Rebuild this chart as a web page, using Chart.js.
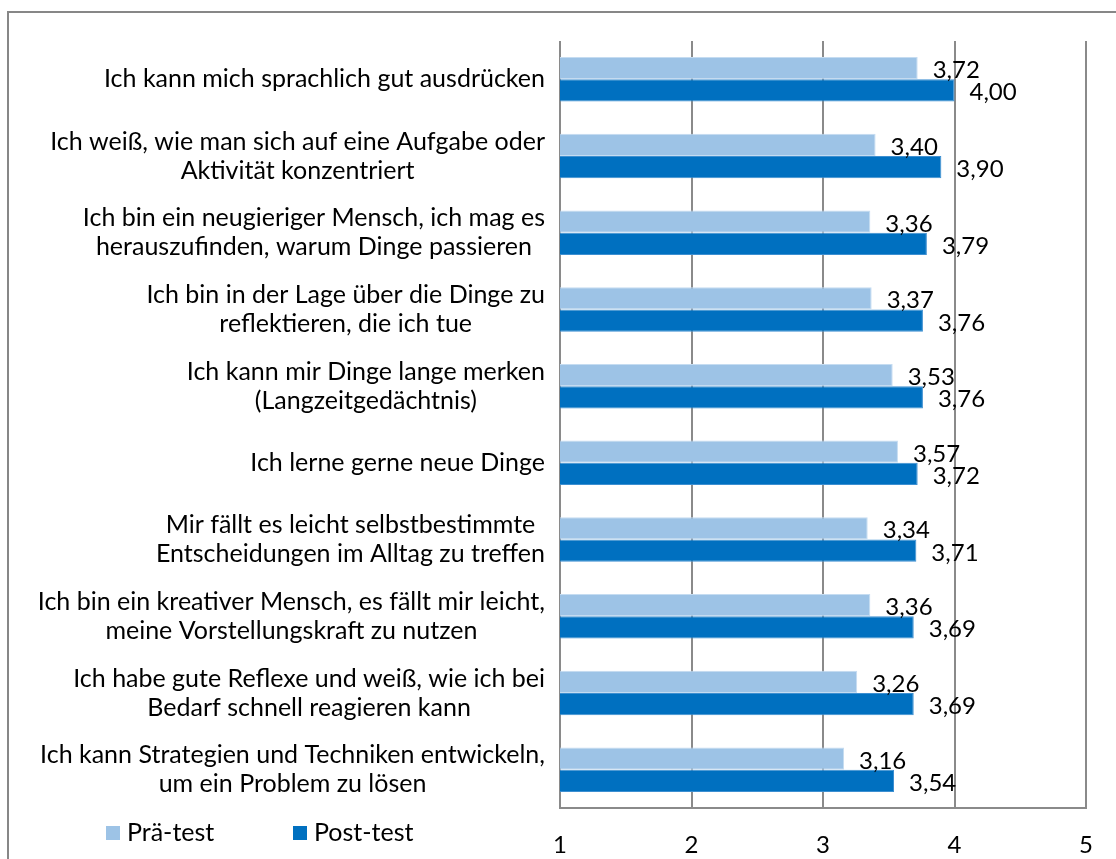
<!DOCTYPE html>
<html>
<head>
<meta charset="utf-8">
<script src="https://cdn.jsdelivr.net/npm/chart.js@4/dist/chart.umd.min.js"></script>
<style>
  html, body { margin: 0; padding: 0; background: #fff; overflow: hidden; }
  #wrap { position: relative; width: 1116px; height: 859px; }
  #frame { position: absolute; left: 7px; top: 11px; width: 1200px; height: 1000px; border: 2px solid #878787; box-sizing: border-box; pointer-events: none; }
  canvas { position: absolute; left: 0; top: 0; }
</style>
</head>
<body>
<div id="wrap">
  <canvas id="c" width="1116" height="859"></canvas>
  <div id="frame"></div>
</div>
<script>
const categories = [
  ["Ich kann mich sprachlich gut ausdrücken"],
  ["Ich weiß, wie man sich auf eine Aufgabe oder", "Aktivität konzentriert"],
  ["Ich bin ein neugieriger Mensch, ich mag es", "herauszufinden, warum Dinge passieren"],
  ["Ich bin in der Lage über die Dinge zu", "reflektieren, die ich tue"],
  ["Ich kann mir Dinge lange merken", "(Langzeitgedächtnis)"],
  ["Ich lerne gerne neue Dinge"],
  ["Mir fällt es leicht selbstbestimmte ", "Entscheidungen im Alltag zu treffen"],
  ["Ich bin ein kreativer Mensch, es fällt mir leicht,", "meine Vorstellungskraft zu nutzen"],
  ["Ich habe gute Reflexe und weiß, wie ich bei", "Bedarf schnell reagieren kann"],
  ["Ich kann Strategien und Techniken entwickeln,", "um ein Problem zu lösen"]
];
const preTest  = [3.72, 3.40, 3.36, 3.37, 3.53, 3.57, 3.34, 3.36, 3.26, 3.16];
const postTest = [4.00, 3.90, 3.79, 3.76, 3.76, 3.72, 3.71, 3.69, 3.69, 3.54];
const seriesNames = ["Prä-test", "Post-test"];
const xTicks = [1, 2, 3, 4, 5];

const FONT = "Lato";
const FS_CAT = 25;
const FS_NUM = 24;
const FS_LEG = 25;
const LIGHT = "#9DC3E6";
const DARK = "#0070C0";
const GRID = "#8a8a8a";

const labelPlugin = {
  id: "customLabels",
  afterDatasetsDraw(chart) {
    const ctx = chart.ctx;
    ctx.save();
    ctx.fillStyle = "#000";
    ctx.font = FS_NUM + "px " + FONT;
    ctx.textBaseline = "alphabetic";
    ctx.textAlign = "left";
    chart.data.datasets.forEach((ds, di) => {
      const meta = chart.getDatasetMeta(di);
      meta.data.forEach((el, i) => {
        const txt = ds.data[i].toFixed(2).replace(".", ",");
        ctx.fillText(txt, el.x + 15, el.y + 10);
      });
    });
    // category labels
    ctx.font = FS_CAT + "px " + FONT;
    const ys = chart.scales.y;
    const rightEdge = 545;
    const lh = 29;
    ctx.textAlign = "center";
    ctx.textBaseline = "middle";
    categories.forEach((lines, i) => {
      const yc = ys.getPixelForTick(i);
      let maxW = 0;
      lines.forEach(l => { maxW = Math.max(maxW, ctx.measureText(l.trim()).width); });
      const cx = rightEdge - maxW / 2;
      lines.forEach((l, j) => {
        ctx.fillText(l.trim(), cx, yc + (j - (lines.length - 1) / 2) * lh);
      });
    });
    // legend
    ctx.font = FS_LEG + "px " + FONT;
    ctx.textAlign = "left";
    ctx.textBaseline = "middle";
    const legendX = [106, 293];
    chart.data.datasets.forEach((ds, di) => {
      ctx.fillStyle = ds.backgroundColor;
      ctx.fillRect(legendX[di], 826, 14, 14);
      ctx.fillStyle = "#000";
      ctx.fillText(ds.label, legendX[di] + 21, 833);
    });
    ctx.restore();
  }
};

new Chart(document.getElementById("c"), {
  type: "bar",
  data: {
    labels: categories,
    datasets: [
      { label: seriesNames[0], data: preTest, backgroundColor: LIGHT, borderColor: "#c5dcf1", borderWidth: 1 },
      { label: seriesNames[1], data: postTest, backgroundColor: DARK, borderColor: "#3d8fd1", borderWidth: 1 }
    ]
  },
  options: {
    indexAxis: "y",
    responsive: false,
    animation: false,
    devicePixelRatio: 1,
    barPercentage: 1.0,
    categoryPercentage: 0.58,
    layout: { padding: { left: 0, right: 30, top: 41, bottom: 0 } },
    plugins: { legend: { display: false }, tooltip: { enabled: false } },
    scales: {
      x: {
        min: 1, max: 5,
        afterBuildTicks(scale) { scale.ticks = xTicks.map(v => ({ value: v })); },
        afterFit(scale) { scale.height = 51; },
        ticks: { color: "#000", font: { family: FONT, size: FS_NUM }, padding: 23 },
        grid: { color: GRID, lineWidth: 2, drawTicks: false },
        border: { display: true, color: GRID, width: 2 }
      },
      y: {
        afterFit(scale) { scale.width = 560; },
        ticks: { display: false },
        grid: { display: false },
        border: { display: false }
      }
    }
  },
  plugins: [labelPlugin]
});
</script>
</body>
</html>
